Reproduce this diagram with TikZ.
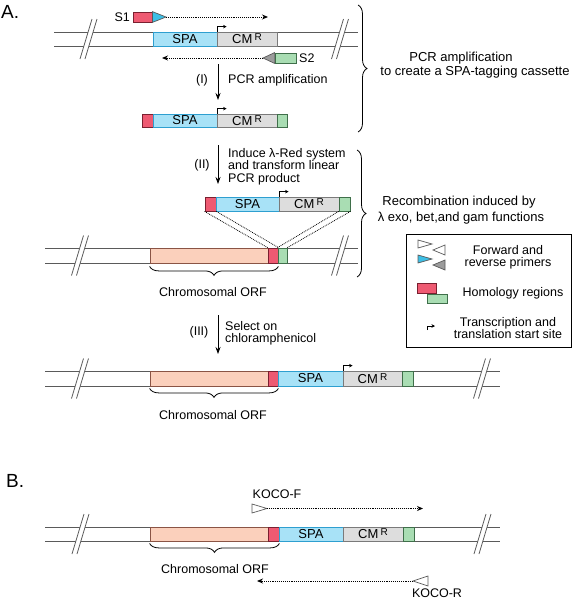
\documentclass[tikz,border=0pt]{standalone}
\usepackage{fontspec}
\setmainfont{Liberation Sans}
\usetikzlibrary{arrows.meta,decorations.pathreplacing,calc}
\definecolor{redF}{HTML}{EE5A72}
\definecolor{redD}{HTML}{7A2030}
\definecolor{greenF}{HTML}{A9DDB3}
\definecolor{greenD}{HTML}{3F6F4A}
\definecolor{spaF}{HTML}{A8E2F7}
\definecolor{spaD}{HTML}{2E9FD0}
\definecolor{cmF}{HTML}{DDDDDD}
\definecolor{cmD}{HTML}{7A7A7A}
\definecolor{orfF}{HTML}{FBD0BC}
\definecolor{orfD}{HTML}{8A5445}
\definecolor{cyanT}{HTML}{3DBFE6}
\definecolor{grayT}{HTML}{9C9C9C}
\definecolor{dnaC}{HTML}{5A5A5A}
\newcommand\cmr{CM\,\raisebox{3pt}{\fontsize{10}{10}\selectfont R}}
\newcommand\dnabreak[2]{%
  \fill[white] (#1-8.5,#2+20) -- (#1+3.5,#2-20) -- (#1+8.5,#2-20) -- (#1-3.5,#2+20) -- cycle;
  \draw[brkline] (#1-8.5,#2+20) -- (#1+3.5,#2-20);
  \draw[brkline] (#1-3.5,#2+20) -- (#1+8.5,#2-20);}
\begin{document}
\begin{tikzpicture}[x=1pt,y=-1pt,
  dna/.style={draw=dnaC, line width=0.9pt},
  brkline/.style={draw=dnaC, line width=0.8pt},
  bx/.style={draw, line width=0.8pt, inner sep=0pt, font=\fontsize{13}{13}\selectfont},
  redbox/.style={bx, fill=redF, draw=redD},
  greenbox/.style={bx, fill=greenF, draw=greenD},
  spabox/.style={bx, fill=spaF, draw=spaD},
  cmbox/.style={bx, fill=cmF, draw=cmD},
  orfbox/.style={bx, fill=orfF, draw=orfD},
  lbl/.style={inner sep=0pt, font=\fontsize{12.5}{12.5}\selectfont},
  blbl/.style={inner sep=0pt, font=\fontsize{13}{13}\selectfont},
  dotarrow/.style={densely dotted, line width=0.9pt, -{Stealth[length=6pt,width=5pt]}},
  steparrow/.style={line width=0.8pt, -{Stealth[length=7pt,width=5pt]}},
  tss/.style={line width=0.7pt, -{Stealth[length=3.5pt,width=3.5pt]}},
  brc/.style={decorate, decoration={brace, amplitude=9pt}, line width=0.8pt},
  xover/.style={densely dotted, line width=0.8pt},
  primer/.style={draw=dnaC, line width=0.7pt}
]
\useasboundingbox (0,0) rectangle (573,600);

% ---------------- Panel A ----------------
\node[anchor=base west, inner sep=0pt, font=\fontsize{19}{19}\selectfont] (labA) at (1,18) {A.};

% Row 1: template
\draw[dna] (54,32) -- (358,32);
\draw[dna] (54,46) -- (358,46);
\dnabreak{88.5}{39}
\dnabreak{340}{39}
\node[spabox, minimum width=64pt, minimum height=14pt] (spa1) at (185,39) {SPA};
\node[cmbox, minimum width=60pt, minimum height=14pt] (cm1) at (247,39) {\cmr};
\draw[tss] ($(cm1.north west)+(1,0)$) -- ++(0,-5) -- ++(9,0);

% primer S1
\node[lbl, anchor=east] (s1lbl) at (130,17) {S1};
\node[redbox, minimum width=19pt, minimum height=10pt] (s1box) at (142.5,17) {};
\coordinate (s1tip) at (166,17);
\draw[primer, fill=cyanT] (s1box.north east) -- (s1tip) -- (s1box.south east) -- cycle;
\coordinate (s1end) at (268,17);
\draw[dotarrow] (s1tip) -- (s1end);

% primer S2
\node[greenbox, minimum width=21pt, minimum height=10pt] (s2box) at (285.5,58) {};
\node[lbl, anchor=west] (s2lbl) at (299,58) {S2};
\coordinate (s2tip) at (263,58);
\draw[primer, fill=grayT] (s2box.north west) -- (s2tip) -- (s2box.south west) -- cycle;
\coordinate (s2end) at (162,58);
\draw[dotarrow] (s2tip) -- (s2end);

% step I
\coordinate (a1s) at (218,64);
\coordinate (a1e) at (218,100);
\draw[steparrow] (a1s) -- (a1e);
\node[lbl] (lI) at (202,80) {(I)};
\node[lbl, anchor=west] (tI) at (228,80) {PCR amplification};

% Row 2: cassette
\node[redbox, minimum width=11pt, minimum height=13pt] (red2) at (147.5,120.5) {};
\node[spabox, minimum width=64pt, minimum height=13pt] (spa2) at (185,120.5) {SPA};
\node[cmbox, minimum width=60pt, minimum height=13pt] (cm2) at (247,120.5) {\cmr};
\node[greenbox, minimum width=10pt, minimum height=13pt] (green2) at (282,120.5) {};
\draw[tss] ($(cm2.north west)+(1,0)$) -- ++(0,-5) -- ++(9,0);

% brace 1
\coordinate (b1t) at (358,5);
\coordinate (b1b) at (358,132);
\draw[brc] (b1t) -- (b1b);
\node[blbl] (b1l1) at (461,58) {PCR amplification};
\node[blbl] (b1l2) at (475,72) {to create a SPA-tagging cassette};

% step II
\coordinate (a2s) at (218,145);
\coordinate (a2e) at (218,184);
\draw[steparrow] (a2s) -- (a2e);
\node[lbl] (lII) at (202,165) {(II)};
\node[lbl, anchor=west, align=left] (tII) at (228,166.5) {Induce λ-Red system\\and transform linear\\PCR product};

% Row 3: cassette
\node[redbox, minimum width=11pt, minimum height=14pt] (red3) at (210.5,204) {};
\node[spabox, minimum width=63pt, minimum height=14pt] (spa3) at (247.5,204) {SPA};
\node[cmbox, minimum width=60pt, minimum height=14pt] (cm3) at (309,204) {\cmr};
\node[greenbox, minimum width=11pt, minimum height=14pt] (green3) at (344.5,204) {};
\draw[tss] ($(cm3.north west)+(1,0)$) -- ++(0,-5) -- ++(9,0);

% Row 3: chromosome
\draw[dna] (45,248) -- (358,248);
\draw[dna] (45,263) -- (358,263);
\dnabreak{80}{255.5}
\dnabreak{340}{255.5}
\node[orfbox, minimum width=118pt, minimum height=15pt] (orf3) at (209,255.5) {};
\node[redbox, minimum width=10pt, minimum height=15pt] (red3c) at (273,255.5) {};
\node[greenbox, minimum width=9pt, minimum height=15pt] (green3c) at (282.5,255.5) {};
\draw[xover] (red3.south west) -- (red3c.north west);
\draw[xover] (red3.south east) -- (red3c.north east);
\draw[xover] (green3.south west) -- (green3c.north west);
\draw[xover] (green3.south east) -- (green3c.north east);
\draw[brc] ($(red3c.south east)+(0,3)$) -- ($(orf3.south west)+(0,3)$);
\node[lbl] (chr3) at (213,292) {Chromosomal ORF};

% brace 2
\coordinate (b2t) at (357,150);
\coordinate (b2b) at (357,277);
\draw[brc] (b2t) -- (b2b);
\node[blbl] (b2l1) at (459,202) {Recombination induced by};
\node[blbl] (b2l2) at (461,218) {λ exo, bet,and gam functions};

% legend
\node[draw, line width=0.8pt, minimum width=165pt, minimum height=113pt, inner sep=0pt] (legend) at (488.5,290.5) {};
\draw[primer, fill=white] (418,240) -- (432,244) -- (418,248) -- cycle;
\draw[primer, fill=white] (445,245) -- (433,250) -- (445,255) -- cycle;
\draw[primer, fill=cyanT] (418,255) -- (432,259) -- (418,263) -- cycle;
\draw[primer, fill=grayT] (445,260) -- (433,265) -- (445,270) -- cycle;
\node[lbl, align=center, font=\fontsize{12.5}{11.5}\selectfont] (lg1) at (508,257.5) {Forward and\\reverse primers};
\node[redbox, minimum width=19pt, minimum height=10pt] (lgred) at (426.5,288) {};
\node[greenbox, minimum width=20pt, minimum height=8.5pt] (lggreen) at (437,299) {};
\node[lbl] (lg2) at (513,293) {Homology regions};
\draw[tss] (427,330) -- (427,326) -- (435,326);
\node[lbl, align=center, font=\fontsize{12.5}{12}\selectfont] (lg3) at (508,328) {Transcription and\\translation start site};

% step III
\coordinate (a3s) at (218,315);
\coordinate (a3e) at (218,354);
\draw[steparrow] (a3s) -- (a3e);
\node[lbl] (lIII) at (199,332) {(III)};
\node[lbl, anchor=west, align=left, font=\fontsize{12.5}{12}\selectfont] (tIII) at (225,333) {Select on\\chloramphenicol};

% Row 4
\draw[dna] (45,371) -- (500,371);
\draw[dna] (45,386) -- (500,386);
\dnabreak{80}{378.5}
\dnabreak{482}{378.5}
\node[orfbox, minimum width=118pt, minimum height=15pt] (orf4) at (209,378.5) {};
\node[redbox, minimum width=10pt, minimum height=15pt] (red4) at (273,378.5) {};
\node[spabox, minimum width=65pt, minimum height=15pt] (spa4) at (310.5,378.5) {SPA};
\node[cmbox, minimum width=59pt, minimum height=15pt] (cm4) at (372.5,378.5) {\cmr};
\node[greenbox, minimum width=11pt, minimum height=15pt] (green4) at (407.5,378.5) {};
\draw[tss] ($(cm4.north west)+(1,0)$) -- ++(0,-5) -- ++(9,0);
\draw[brc] ($(red4.south east)+(0,2)$) -- ($(orf4.south west)+(0,2)$);
\node[lbl] (chr4) at (213,415) {Chromosomal ORF};

% ---------------- Panel B ----------------
\node[anchor=base west, inner sep=0pt, font=\fontsize{19}{19}\selectfont] (labB) at (6,487) {B.};
\draw[dna] (45,527) -- (500,527);
\draw[dna] (45,541) -- (500,541);
\dnabreak{80.5}{534}
\dnabreak{482.5}{534}
\node[orfbox, minimum width=118pt, minimum height=14pt] (orf5) at (209,534) {};
\node[redbox, minimum width=11pt, minimum height=14pt] (red5) at (273.5,534) {};
\node[spabox, minimum width=64pt, minimum height=14pt] (spa5) at (311,534) {SPA};
\node[cmbox, minimum width=60pt, minimum height=14pt] (cm5) at (373,534) {\cmr};
\node[greenbox, minimum width=11pt, minimum height=14pt] (green5) at (408.5,534) {};
\draw[brc] ($(red5.south east)+(0,2)$) -- ($(orf5.south west)+(0,2)$);
\node[lbl] (chr5) at (215,569) {Chromosomal ORF};

% KOCO-F
\node[lbl] (kf) at (277,494) {KOCO-F};
\coordinate (kftip) at (267,508.5);
\draw[primer, fill=white] (252,504) -- (kftip) -- (252,513) -- cycle;
\coordinate (kfend) at (423,508.5);
\draw[dotarrow] (kftip) -- (kfend);
% KOCO-R
\node[lbl] (kr) at (437,593.5) {KOCO-R};
\coordinate (krtip) at (413,581);
\draw[primer, fill=white] (428,576) -- (krtip) -- (428,586) -- cycle;
\coordinate (krend) at (257,581);
\draw[dotarrow] (krtip) -- (krend);
\end{tikzpicture}
\end{document}
